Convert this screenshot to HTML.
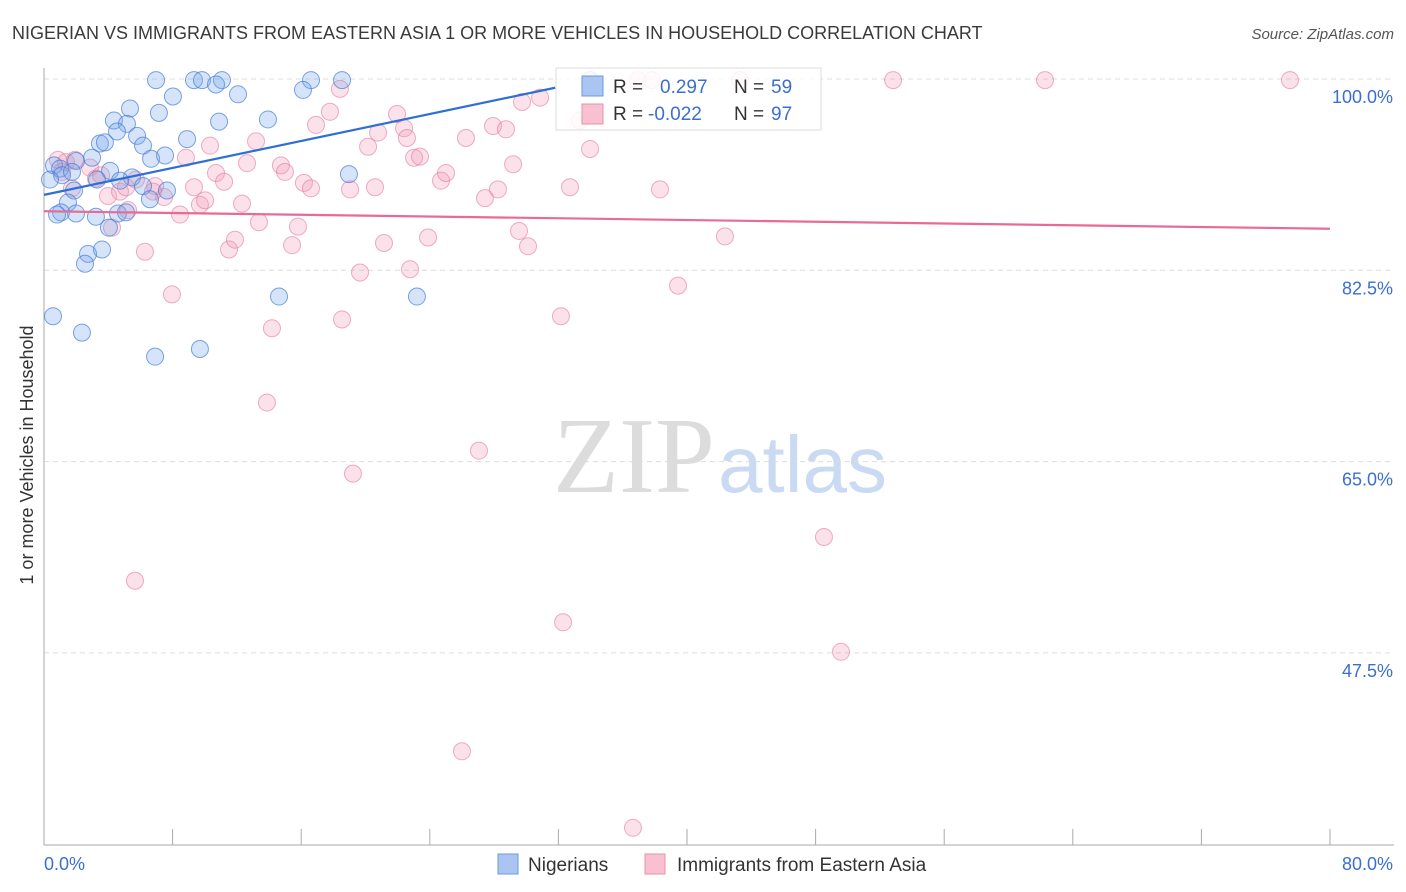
<!DOCTYPE html>
<html><head><meta charset="utf-8"><style>
body{margin:0;background:#fff;font-family:"Liberation Sans",sans-serif;}
#wrap{position:relative;width:1406px;height:892px;overflow:hidden;}
</style></head><body>
<div id="wrap">
<svg id="chart" width="1406" height="892" xmlns="http://www.w3.org/2000/svg">
<text x="12" y="39" font-size="18" fill="#3a3a3a">NIGERIAN VS IMMIGRANTS FROM EASTERN ASIA 1 OR MORE VEHICLES IN HOUSEHOLD CORRELATION CHART</text>
<text x="1394" y="39" font-size="15" fill="#555" font-style="italic" text-anchor="end">Source: ZipAtlas.com</text>
<text transform="translate(33,455) rotate(-90)" font-size="18" fill="#333" text-anchor="middle">1 or more Vehicles in Household</text>
<text x="553" y="492" font-size="108" fill="#dcdcdc" font-family="Liberation Serif, serif">ZIP</text>
<text x="718" y="492" font-size="80" fill="#c9daf2">atlas</text>
<g id="grid"></g><g id="axes"></g><g id="pts"></g><g id="lines"></g>
<g>
<rect x="556" y="68" width="265" height="62" fill="#fff" fill-opacity="0.85" stroke="#ddd"/>
<rect x="582" y="76" width="21" height="20" fill="#aac6f0" stroke="#6b9ae0"/>
<rect x="582" y="104" width="21" height="20" fill="#f8c0d0" stroke="#e890ae"/>
<text x="613" y="93" font-size="19" fill="#333">R = </text><text x="660" y="93" font-size="19" fill="#3a6fd0">0.297</text>
<text x="734" y="93" font-size="19" fill="#333">N = </text><text x="771" y="93" font-size="19" fill="#3a6fd0">59</text>
<text x="613" y="120" font-size="19" fill="#333">R = </text><text x="648" y="120" font-size="19" fill="#3a6fd0">-0.022</text>
<text x="734" y="120" font-size="19" fill="#333">N = </text><text x="771" y="120" font-size="19" fill="#3a6fd0">97</text>
</g>
<g>
<rect x="498" y="854" width="20" height="20" fill="#aac6f0" stroke="#6b9ae0"/>
<text x="528" y="871" font-size="19" fill="#333">Nigerians</text>
<rect x="645" y="854" width="20" height="20" fill="#f8c0d0" stroke="#e890ae"/>
<text x="677" y="871" font-size="19" fill="#333">Immigrants from Eastern Asia</text>
</g>
</svg>
<script>
const yTicks=[100,82.5,65,47.5];
const yTickLabels=["100.0%","82.5%","65.0%","47.5%"];
const xTickVals=[0,8,16,24,32,40,48,56,64,72,80];
const xEndLabels=["0.0%","80.0%"];
const blueX=[6.97,9.33,9.83,11.07,16.61,18.54,10.70,16.11,12.07,8.02,5.35,7.15,13.93,10.89,4.35,5.16,4.54,5.79,8.90,3.48,3.79,6.16,6.66,2.99,7.53,1.99,0.62,1.00,1.12,1.74,4.11,5.47,0.37,3.30,4.73,6.16,7.65,1.87,1.49,6.59,1.06,0.81,1.99,3.23,4.60,5.10,4.04,2.74,2.55,3.61,18.97,14.62,23.20,0.56,2.36,6.91,9.70,33.97];
const blueY=[99.9,99.9,99.9,99.9,99.9,99.9,99.5,99.0,98.6,98.4,97.3,96.9,96.3,96.1,96.2,95.9,95.2,94.8,94.5,94.1,94.2,93.9,92.7,92.8,93.0,92.5,92.1,91.8,91.2,91.5,91.6,91.0,90.8,90.8,90.7,90.2,89.8,89.8,88.7,89.0,87.8,87.6,87.7,87.4,87.7,87.8,86.4,84.0,83.1,84.4,91.3,80.1,80.1,78.3,76.8,74.6,75.3,99.9];
const pinkX=[0.87,1.37,1.93,2.86,1.12,3.23,3.55,1.74,3.98,4.73,5.10,5.72,6.91,7.47,6.78,4.23,5.23,6.28,7.96,5.66,8.83,9.33,9.70,10.02,10.33,10.70,11.20,8.46,11.51,11.88,12.32,12.63,13.19,13.37,14.18,13.87,14.74,14.99,15.43,15.80,16.17,16.61,16.92,17.79,18.41,18.54,19.04,19.22,19.66,20.16,20.59,20.78,21.15,21.96,22.40,22.58,22.77,23.02,23.39,23.89,24.70,25.01,26.25,26.00,27.06,27.43,27.93,28.24,28.74,29.18,29.55,29.74,30.11,30.86,32.16,32.29,32.72,33.34,33.97,36.64,36.95,37.82,38.32,39.44,42.36,43.30,48.52,49.58,52.82,62.27,77.51];
const pinkY=[92.6,92.4,92.6,91.9,91.5,90.9,91.2,90.0,89.3,89.7,90.1,90.8,90.2,89.2,89.7,86.4,88.0,84.2,80.3,54.1,92.8,90.1,88.5,88.9,93.9,91.4,90.6,87.6,84.4,85.3,88.6,92.3,94.3,86.9,77.2,70.4,92.1,91.5,84.8,86.5,90.5,90.0,95.8,97.0,99.1,78.0,89.9,63.9,82.3,93.8,90.1,95.1,85.0,96.8,95.5,94.6,82.6,92.8,92.9,85.5,90.7,91.4,94.6,38.5,66.0,89.1,95.7,89.9,95.4,92.2,86.1,97.9,84.7,98.3,78.3,50.3,90.1,96.2,93.6,31.5,99.9,99.9,89.9,81.1,85.6,99.9,58.1,47.6,99.9,99.9,99.9];
const blueTrendX=[0,31.8];
const blueTrendY=[89.4,99.2];
const pinkTrendX=[0,80];
const pinkTrendY=[87.9,86.3];

const NS="http://www.w3.org/2000/svg";
const X0=44,X1=1330,Y100=79,PXPER=191.3/17.5;
function sx(v){return X0+(v/80)*(X1-X0);}
function sy(v){return Y100+(100-v)*PXPER;}
function mk(tag,attrs,parent){const e=document.createElementNS(NS,tag);for(const k in attrs)e.setAttribute(k,attrs[k]);parent.appendChild(e);return e;}
const grid=document.getElementById('grid'),axes=document.getElementById('axes'),pts=document.getElementById('pts'),lines=document.getElementById('lines');
yTicks.forEach((t,i)=>{
  const l=mk('line',{x1:X0,x2:1394,y1:sy(t),y2:sy(t),stroke:'#dcdcdc','stroke-dasharray':'5,4'},grid);
  
  
  const tx=mk('text',{x:1393,y:sy(t)+24,'font-size':18,fill:'#3a6fd0','text-anchor':'end'},axes);
  tx.textContent=yTickLabels[i];
  
  
});
const yax=mk('line',{x1:X0,x2:X0,y1:68,y2:845,stroke:'#aaa'},axes);


const xax=mk('line',{x1:X0,x2:1394,y1:845,y2:845,stroke:'#aaa'},axes);


xTickVals.forEach(v=>{
  const t=mk('line',{x1:sx(v),x2:sx(v),y1:829,y2:845,stroke:'#aaa'},axes);
  
  
});
const xl0=mk('text',{x:44,y:870,'font-size':18,fill:'#3a6fd0'},axes);
xl0.textContent=xEndLabels[0];


const xl1=mk('text',{x:1393,y:870,'font-size':18,fill:'#3a6fd0','text-anchor':'end'},axes);
xl1.textContent=xEndLabels[1];


pinkX.forEach((v,i)=>{
  const c=mk('circle',{cx:sx(v),cy:sy(pinkY[i]),r:8.5,fill:'rgba(242,150,180,0.28)',stroke:'rgba(228,120,155,0.6)','stroke-width':1},pts);
  
  
});
blueX.forEach((v,i)=>{
  const c=mk('circle',{cx:sx(v),cy:sy(blueY[i]),r:8.5,fill:'rgba(120,165,235,0.3)',stroke:'rgba(70,125,215,0.7)','stroke-width':1},pts);
  
  
});
const bl=mk('line',{x1:sx(blueTrendX[0]),y1:sy(blueTrendY[0]),x2:sx(blueTrendX[1]),y2:sy(blueTrendY[1]),stroke:'#2e6fd6','stroke-width':2.2},lines);


const pl=mk('line',{x1:sx(pinkTrendX[0]),y1:sy(pinkTrendY[0]),x2:sx(pinkTrendX[1]),y2:sy(pinkTrendY[1]),stroke:'#e86a95','stroke-width':2.2},lines);


</script>
</div>
</body></html>
